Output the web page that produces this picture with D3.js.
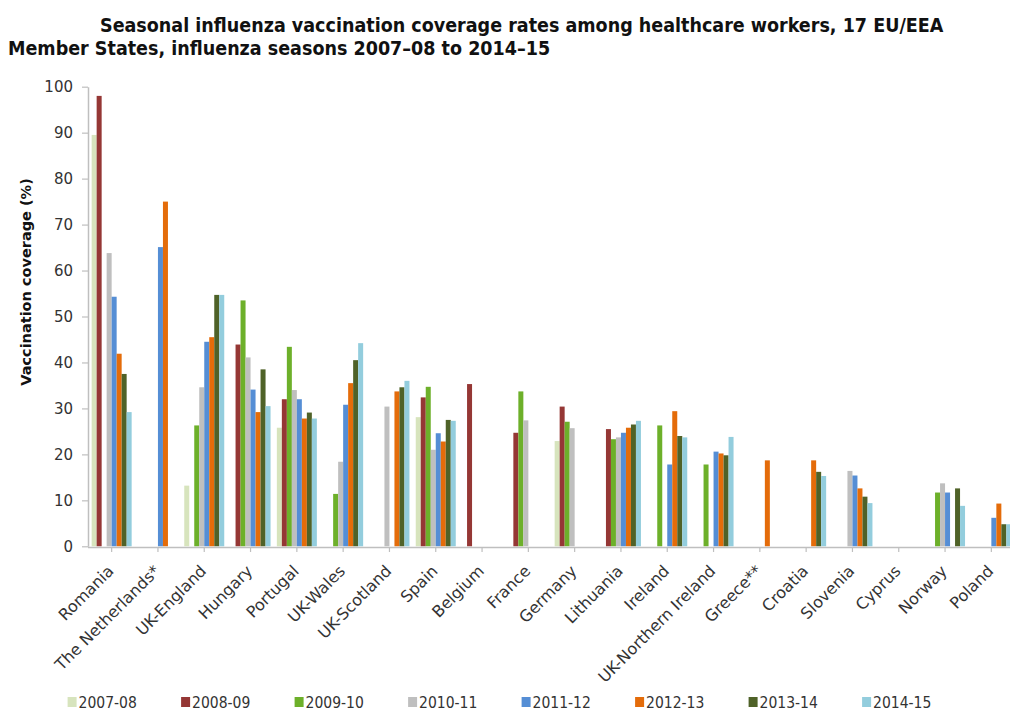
<!DOCTYPE html>
<html>
<head>
<meta charset="utf-8">
<script src="https://cdn.jsdelivr.net/npm/d3@7"></script>
<style>
  html, body { margin: 0; padding: 0; background: #fff; }
  svg { display: block; }
  text { font-family: "DejaVu Sans", Verdana, sans-serif; }
</style>
</head>
<body>
<svg id="chart" width="1010" height="713"></svg>
<script>
const categories = ["Romania", "The Netherlands*", "UK-England", "Hungary", "Portugal", "UK-Wales", "UK-Scotland", "Spain", "Belgium", "France", "Germany", "Lithuania", "Ireland", "UK-Northern Ireland", "Greece**", "Croatia", "Slovenia", "Cyprus", "Norway", "Poland"];
const seasons = ["2007-08", "2008-09", "2009-10", "2010-11", "2011-12", "2012-13", "2013-14", "2014-15"];

const s2007_08 = [89.5, null, 13.2, null, 25.8, null, null, 28.1, null, null, 22.9, null, null, null, null, null, null, null, null, null];
const s2008_09 = [98.0, null, null, 43.9, 32.0, null, null, 32.4, 35.3, 24.7, 30.4, 25.5, null, null, null, null, null, null, null, null];
const s2009_10 = [null, null, 26.3, 53.5, 43.4, 11.4, null, 34.7, null, 33.7, 27.1, 23.3, 26.3, 17.8, null, null, null, null, 11.7, null];
const s2010_11 = [63.8, null, 34.6, 41.1, 34.0, 18.4, 30.4, 21.0, null, 27.4, 25.7, 23.7, null, null, null, null, 16.4, null, 13.7, null];
const s2011_12 = [54.3, 65.1, 44.5, 34.1, 32.0, 30.8, null, 24.6, null, null, null, 24.7, 17.8, 20.6, null, null, 15.4, null, 11.7, 6.2];
const s2012_13 = [41.9, 75.0, 45.5, 29.2, 27.8, 35.5, 33.7, 22.8, null, null, null, 25.8, 29.4, 20.2, 18.7, 18.7, 12.6, null, null, 9.3];
const s2013_14 = [37.5, null, 54.7, 38.5, 29.1, 40.5, 34.6, 27.5, null, null, null, 26.5, 24.0, 19.8, null, 16.2, 10.8, null, 12.6, 4.8];
const s2014_15 = [29.2, null, 54.7, 30.5, 27.8, 44.2, 36.0, 27.3, null, null, null, 27.3, 23.7, 23.8, null, 15.3, 9.4, null, 8.8, 4.8];

const yTicks = [0, 10, 20, 30, 40, 50, 60, 70, 80, 90, 100];
const colors = ["#d7e4bd", "#953735", "#6db02a", "#bfbfbf", "#558ed5", "#e46c0a", "#4f6228", "#93cddd"];

const seriesValues = [s2007_08, s2008_09, s2009_10, s2010_11, s2011_12, s2012_13, s2013_14, s2014_15];
const series = seasons.map((s, i) => ({ season: s, color: colors[i], values: seriesValues[i] }));

const svg = d3.select("#chart");
const axisColor = "#bfbfbf";
const textColor = "#333333";
const condensed = "'DejaVu Sans Condensed', 'DejaVu Sans', sans-serif";

const step = 46.3;
const x0 = d3.scaleBand().domain(categories).range([88.5, 88.5 + step * categories.length]).padding(0);
const groupW = 40;
const x1 = d3.scaleBand().domain(seasons).range([0, groupW]).padding(0);
const y = d3.scaleLinear().domain([0, 100]).range([546.3, 86.7]);

// Bars
const gBars = svg.append("g");
series.forEach(s => {
  gBars.append("g").attr("fill", s.color)
    .selectAll("rect")
    .data(categories.map((c, i) => ({ c, v: s.values[i] })).filter(d => d.v != null))
    .join("rect")
    .attr("x", d => x0(d.c) + (x0.bandwidth() - groupW) / 2 + x1(s.season))
    .attr("width", x1.bandwidth())
    .attr("y", d => y(d.v))
    .attr("height", d => y(0) - y(d.v));
});

// Y axis
const yAxis = svg.append("g").attr("transform", "translate(88,0)")
  .call(d3.axisLeft(y).tickValues(yTicks).tickSize(6).tickPadding(9).tickSizeOuter(0));
yAxis.select(".domain").attr("stroke", axisColor).attr("stroke-width", 1.5);
yAxis.selectAll(".tick line").attr("stroke", axisColor).attr("stroke-width", 1.2);
yAxis.selectAll(".tick text").attr("fill", textColor).style("font-size", "15px")
  .style("font-family", "'DejaVu Sans', Verdana, sans-serif");

// X axis
const xAxis = svg.append("g").attr("transform", "translate(0,547)")
  .call(d3.axisBottom(x0).tickSize(5).tickSizeOuter(0));
xAxis.select(".domain").attr("stroke", axisColor).attr("stroke-width", 1.5)
  .attr("d", "M88,0.5H1010");
xAxis.selectAll(".tick line").attr("stroke", axisColor).attr("stroke-width", 1.2);
xAxis.selectAll(".tick text")
  .attr("fill", textColor)
  .style("font-size", "16px")
  .style("font-family", "'DejaVu Sans', Verdana, sans-serif")
  .attr("text-anchor", "end")
  .attr("y", 0).attr("dy", 0)
  .attr("transform", "translate(3,25) rotate(-45)");

// Y axis title
svg.append("text")
  .attr("transform", "translate(31,282) rotate(-90)")
  .attr("text-anchor", "middle")
  .attr("fill", "#111")
  .style("font-size", "14.5px").style("font-weight", "bold")
  .text("Vaccination coverage (%)");

// Title
svg.append("text").attr("x", 100).attr("y", 32)
  .attr("fill", "#111").style("font-size", "19.5px").style("font-weight", "bold")
  .style("font-family", condensed)
  .text("Seasonal influenza vaccination coverage rates among healthcare workers, 17 EU/EEA");
svg.append("text").attr("x", 8).attr("y", 55)
  .attr("fill", "#111").style("font-size", "19.5px").style("font-weight", "bold")
  .style("font-family", condensed)
  .text("Member States, influenza seasons 2007–08 to 2014–15");

// Legend
const legend = svg.append("g");
const legendStart = 67.6, legendStep = 113.5;
series.forEach((s, i) => {
  const gx = legendStart + legendStep * i;
  const g = legend.append("g").attr("transform", `translate(${gx},0)`);
  g.append("rect").attr("x", 0).attr("y", 697).attr("width", 9).attr("height", 10).attr("fill", s.color);
  g.append("text").attr("x", 11).attr("y", 707.5)
    .attr("fill", textColor).style("font-size", "15.5px")
    .style("font-family", condensed)
    .text(s.season);
});
</script>
</body>
</html>
